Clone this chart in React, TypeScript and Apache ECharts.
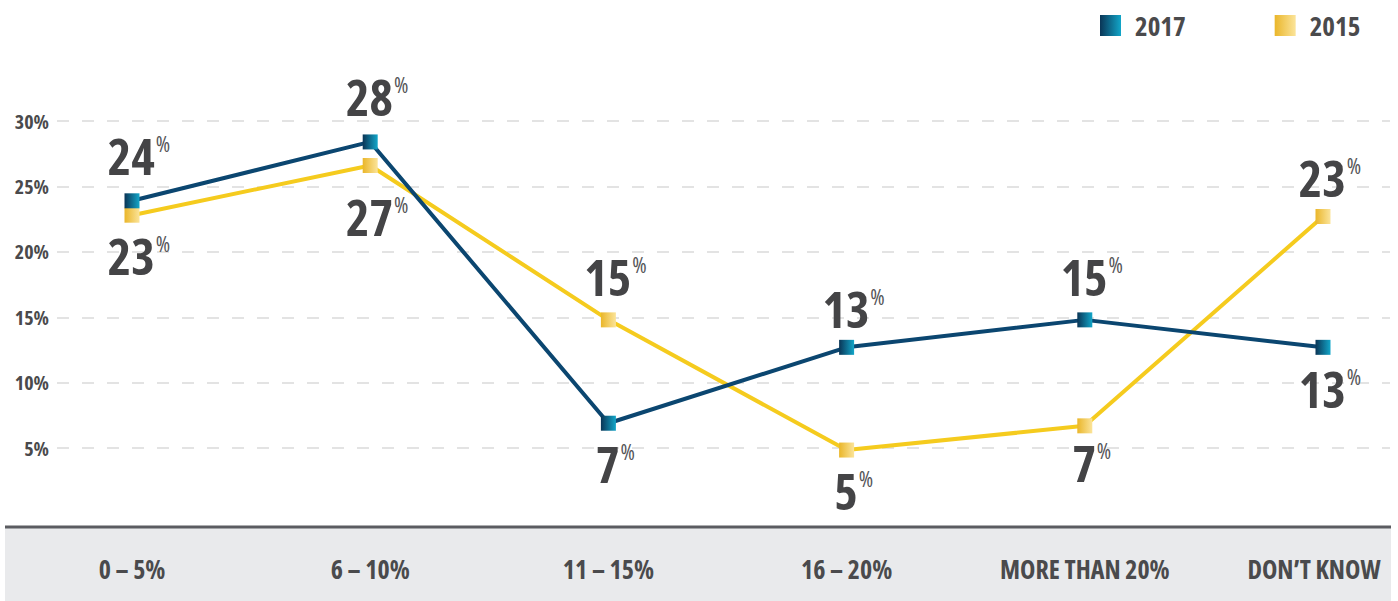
import React, { useEffect, useRef } from "react";
import * as echarts from "echarts";

const categories = ["0 – 5%", "6 – 10%", "11 – 15%", "16 – 20%", "MORE THAN 20%", "DON’T KNOW"];
const values2017 = [23.9, 28.4, 6.9, 12.7, 14.8, 12.7];
const values2015 = [22.8, 26.6, 14.8, 4.85, 6.7, 22.7];
const labelPos2017 = ["top", "top", "bottom", "top", "top", "bottom"];
const labelPos2015 = ["bottom", "bottom", "top", "bottom", "bottom", "top"];
const labelGap2017 = [12, 12, 8, 6, 10, 9];
const labelGap2015 = [8, 19, 10, 8, 5, 6];
const yTicks = { min: 0, max: 30, interval: 5 };

const FONT = "'Open Sans', sans-serif";
const TEXT = "#444446";

// Condensed text: measure with font-stretch condensed so rich-text layout matches SVG output.
const measureCanvas = document.createElement("canvas");
const measureCtx = measureCanvas.getContext("2d") as any;
(echarts as any).setPlatformAPI({
  measureText(text: string, font?: string) {
    measureCtx.font = font || "12px sans-serif";
    measureCtx.fontStretch = "condensed";
    return measureCtx.measureText(text);
  },
});

const grad = (a: string, b: string) =>
  new echarts.graphic.LinearGradient(0, 0, 1, 0, [
    { offset: 0, color: a },
    { offset: 1, color: b },
  ]);

const labelStyle = {
  show: true,
  offset: [7, 0],
  formatter: (p: any) => `{n|${Math.round(p.value)}}{p|%}`,
  rich: {
    n: { fontFamily: FONT, fontSize: 50, fontWeight: "bold", color: TEXT, lineHeight: 50 },
    p: { fontFamily: FONT, fontSize: 22, fontWeight: "normal", color: "#555558", verticalAlign: "top", lineHeight: 22, padding: [1, 0, 0, 1] },
  },
};

const mkData = (vals: number[], pos: string[], gaps: number[]) =>
  vals.map((v, i) => ({
    value: v,
    label: { position: pos[i], distance: gaps[i] },
  }));

export default function App() {
  const ref = useRef<HTMLDivElement>(null);
  useEffect(() => {
    if (!ref.current) return;
    const chart = echarts.init(ref.current, null, { renderer: "svg" });
    const top = 121;
    const bottom = 87.5;
    const catData = categories.map((c, i) =>
      i === categories.length - 1 ? { value: c, textStyle: { padding: [0, 18, 0, 0] } } : c
    );
    chart.setOption({
      animation: false,
      backgroundColor: "#fff",
      textStyle: { fontFamily: FONT },
      legend: {
        data: ["2017", "2015"],
        left: 1100,
        top: 12,
        icon: "rect",
        itemWidth: 21,
        itemHeight: 21,
        itemGap: 89,
        padding: 0,
        textStyle: { fontFamily: FONT, fontSize: 27, fontWeight: "bold", color: "#4a4a4c", padding: [0, 0, 0, 9] },
      },
      graphic: [
        { type: "rect", z: -10, shape: { x: 5, y: 527, width: 1386, height: 74 }, style: { fill: "#e9eaec" } },
        { type: "rect", z: -10, shape: { x: 5, y: 525.5, width: 1386, height: 3 }, style: { fill: "#5b5c61" } },
      ],
      grid: [
        { left: 132, right: 75, top, bottom },
        { left: 57, right: 8, top, bottom },
      ],
      xAxis: [
        {
          type: "category",
          gridIndex: 0,
          data: catData,
          boundaryGap: false,
          z: 10,
          axisLine: { show: false },
          axisTick: { show: false },
          splitLine: { show: false },
          axisLabel: { interval: 0, margin: 42, fontFamily: FONT, fontSize: 26, fontWeight: "bold", color: "#4a4a4c" },
        },
        { type: "value", gridIndex: 1, show: false, min: 0, max: 1 },
      ],
      yAxis: [
        { type: "value", gridIndex: 0, min: yTicks.min, max: yTicks.max, interval: yTicks.interval, show: false, splitLine: { show: false } },
        {
          type: "value",
          gridIndex: 1,
          min: yTicks.min,
          max: yTicks.max,
          interval: yTicks.interval,
          axisLine: { show: false },
          axisTick: { show: false },
          axisLabel: {
            margin: 8,
            showMinLabel: false,
            formatter: "{value}%",
            fontFamily: FONT,
            fontSize: 20,
            fontWeight: "bold",
            color: "#4a4a4c",
          },
          splitLine: {
            showMinLine: false,
            lineStyle: { color: "#e3e3e3", width: 2, type: [12, 13] },
          },
        },
      ],
      series: [
        {
          name: "2015",
          type: "line",
          xAxisIndex: 0,
          yAxisIndex: 0,
          data: mkData(values2015, labelPos2015, labelGap2015),
          symbol: "rect",
          symbolSize: 15,
          showAllSymbol: true,
          lineStyle: { color: "#f5cb1e", width: 4 },
          itemStyle: { color: grad("#eab62a", "#fbe49a") },
          label: labelStyle,
          z: 2,
        },
        {
          name: "2017",
          type: "line",
          xAxisIndex: 0,
          yAxisIndex: 0,
          data: mkData(values2017, labelPos2017, labelGap2017),
          symbol: "rect",
          symbolSize: 15,
          showAllSymbol: true,
          lineStyle: { color: "#0b4670", width: 4 },
          itemStyle: { color: grad("#0a3556", "#12a6c9") },
          label: labelStyle,
          z: 3,
        },
      ],
    });
    return () => chart.dispose();
  }, []);
  return (
    <>
      <style>{`#root svg text { font-stretch: condensed; }`}</style>
      <div ref={ref} style={{ position: "absolute", left: 0, top: 0, width: 1398, height: 601 }} />
    </>
  );
}
